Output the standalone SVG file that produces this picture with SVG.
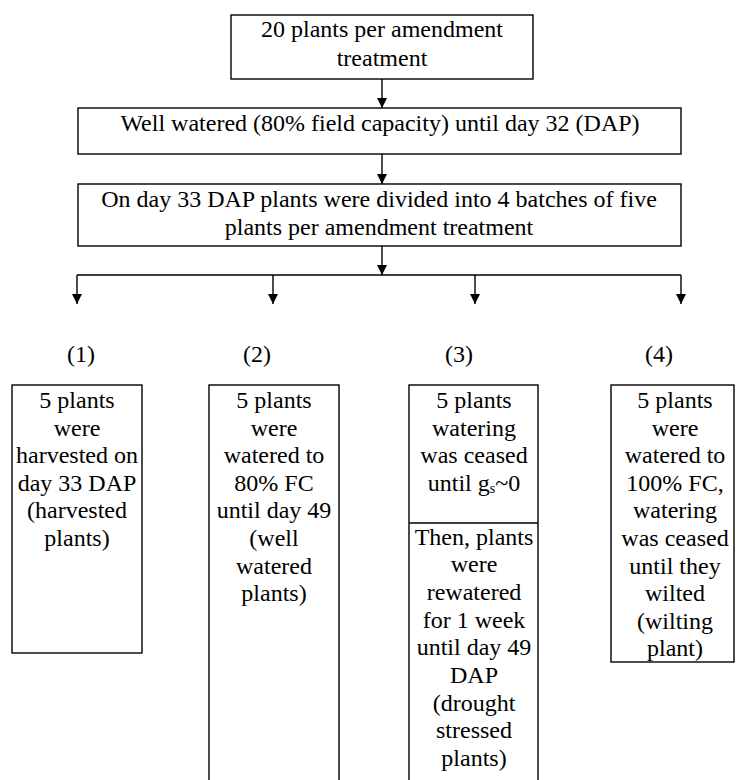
<svg xmlns="http://www.w3.org/2000/svg" width="736" height="780" viewBox="0 0 736 780">
<style>
  .box{fill:#fff;stroke:#000;stroke-width:1.4}
  .t{font-family:'Liberation Serif','Times New Roman',serif;font-size:24px;fill:#000;text-anchor:middle}
  .c{stroke:#000;stroke-width:1.4;fill:none}
</style>
<defs>
  <marker id="ah" markerWidth="10" markerHeight="10" refX="10" refY="5" orient="auto" markerUnits="userSpaceOnUse">
    <path d="M0,0 L10,5 L0,10 Z" fill="#000"/>
  </marker>
</defs>
<rect width="736" height="780" fill="#fff"/>
<g id="connectors">
  <line class="c" x1="382" y1="79" x2="382" y2="108" marker-end="url(#ah)"/>
  <line class="c" x1="382" y1="154" x2="382" y2="184" marker-end="url(#ah)"/>
  <line class="c" x1="382" y1="246" x2="382" y2="275" marker-end="url(#ah)"/>
  <line class="c" x1="77" y1="275" x2="681" y2="275"/>
  <line class="c" x1="77" y1="275" x2="77" y2="304" marker-end="url(#ah)"/>
  <line class="c" x1="273" y1="275" x2="273" y2="304" marker-end="url(#ah)"/>
  <line class="c" x1="475" y1="275" x2="475" y2="304" marker-end="url(#ah)"/>
  <line class="c" x1="681" y1="275" x2="681" y2="304" marker-end="url(#ah)"/>
</g>
<g id="start">
  <rect class="box" x="231" y="15" width="302" height="64"/>
  <text class="t" x="382" y="37">20 plants per amendment</text>
  <text class="t" x="382" y="66">treatment</text>
</g>
<g id="wellwatered">
  <rect class="box" x="78" y="108" width="603" height="46"/>
  <text class="t" x="380" y="131">Well watered (80% field capacity) until day 32 (DAP)</text>
</g>
<g id="divided">
  <rect class="box" x="78" y="184" width="603" height="62"/>
  <text class="t" x="379" y="207">On day 33 DAP plants were divided into 4 batches of five</text>
  <text class="t" x="379" y="235">plants per amendment treatment</text>
</g>
<g id="label1"><text class="t" x="81" y="362">(1)</text></g>
<g id="label2"><text class="t" x="257" y="362">(2)</text></g>
<g id="label3"><text class="t" x="459" y="362">(3)</text></g>
<g id="label4"><text class="t" x="659" y="362">(4)</text></g>
<g id="batch1">
  <rect class="box" x="12" y="385" width="130" height="268"/>
  <text class="t" x="77" y="408">5 plants</text>
  <text class="t" x="77" y="436">were</text>
  <text class="t" x="77" y="463">harvested on</text>
  <text class="t" x="77" y="491">day 33 DAP</text>
  <text class="t" x="77" y="518">(harvested</text>
  <text class="t" x="77" y="546">plants)</text>
</g>
<g id="batch2">
  <rect class="box" x="209" y="385" width="130" height="420"/>
  <text class="t" x="274" y="408">5 plants</text>
  <text class="t" x="274" y="436">were</text>
  <text class="t" x="274" y="463">watered to</text>
  <text class="t" x="274" y="491">80% FC</text>
  <text class="t" x="274" y="518">until day 49</text>
  <text class="t" x="274" y="546">(well</text>
  <text class="t" x="274" y="574">watered</text>
  <text class="t" x="274" y="601">plants)</text>
</g>
<g id="batch3">
  <rect class="box" x="409" y="385" width="129" height="420"/>
  <line class="c" x1="409" y1="523" x2="538" y2="523"/>
  <text class="t" x="474" y="408">5 plants</text>
  <text class="t" x="474" y="436">watering</text>
  <text class="t" x="474" y="463">was ceased</text>
  <text class="t" x="474" y="491">until g<tspan font-size="14" dy="2">s</tspan><tspan dy="-2">~0</tspan></text>
  <text class="t" x="474" y="545">Then, plants</text>
  <text class="t" x="474" y="572">were</text>
  <text class="t" x="474" y="600">rewatered</text>
  <text class="t" x="474" y="628">for 1 week</text>
  <text class="t" x="474" y="655">until day 49</text>
  <text class="t" x="474" y="683">DAP</text>
  <text class="t" x="474" y="711">(drought</text>
  <text class="t" x="474" y="738">stressed</text>
  <text class="t" x="474" y="766">plants)</text>
</g>
<g id="batch4">
  <rect class="box" x="611" y="385" width="123" height="277"/>
  <text class="t" x="675" y="408">5 plants</text>
  <text class="t" x="675" y="436">were</text>
  <text class="t" x="675" y="463">watered to</text>
  <text class="t" x="675" y="491">100% FC,</text>
  <text class="t" x="675" y="518">watering</text>
  <text class="t" x="675" y="546">was ceased</text>
  <text class="t" x="675" y="574">until they</text>
  <text class="t" x="675" y="601">wilted</text>
  <text class="t" x="675" y="629">(wilting</text>
  <text class="t" x="675" y="656">plant)</text>
</g>
</svg>
